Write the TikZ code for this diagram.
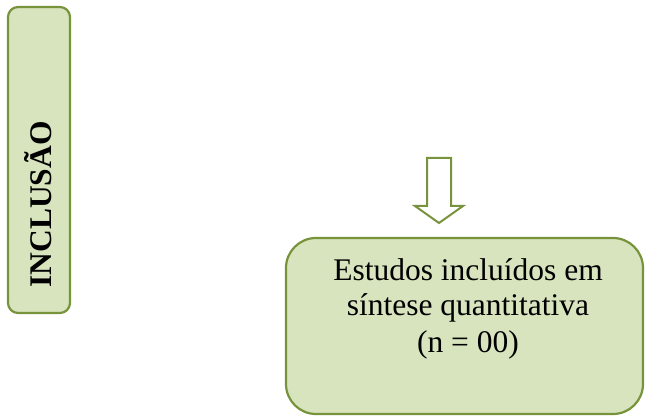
\documentclass[tikz,border=0pt]{standalone}
\usepackage{fontspec}
\setmainfont{Liberation Serif}
\definecolor{boxfill}{HTML}{D7E4BD}
\definecolor{boxline}{HTML}{77933C}
\begin{document}
\begin{tikzpicture}[x=1pt,y=-1pt,
  greenbox/.style={draw=boxline, fill=boxfill, line width=2.2pt},
  bigtext/.style={font=\fontsize{31.5}{36}\selectfont, align=center, inner sep=0pt}]
\useasboundingbox (0,0) rectangle (646,417);
% left stage box
\draw[greenbox, rounded corners=10pt] (8,7) rectangle (70,313);
\node[bigtext, font=\fontsize{31.5}{36}\selectfont\bfseries, rotate=90, anchor=base] (incl) at (51,204.5) {INCLUSÃO};
% down arrow
\draw[draw=boxline, fill=white, line width=2pt, line join=miter]
  (427,158) -- (451,158) -- (451,206) -- (463,206) -- (439,223) -- (415,206) -- (427,206) -- cycle;
% result box
\draw[greenbox, rounded corners=30pt] (286,238) rectangle (643,414);
\node[bigtext, anchor=base] (res) at (468,352) {Estudos incluídos em\\síntese quantitativa\\(n = 00)};
\end{tikzpicture}
\end{document}
